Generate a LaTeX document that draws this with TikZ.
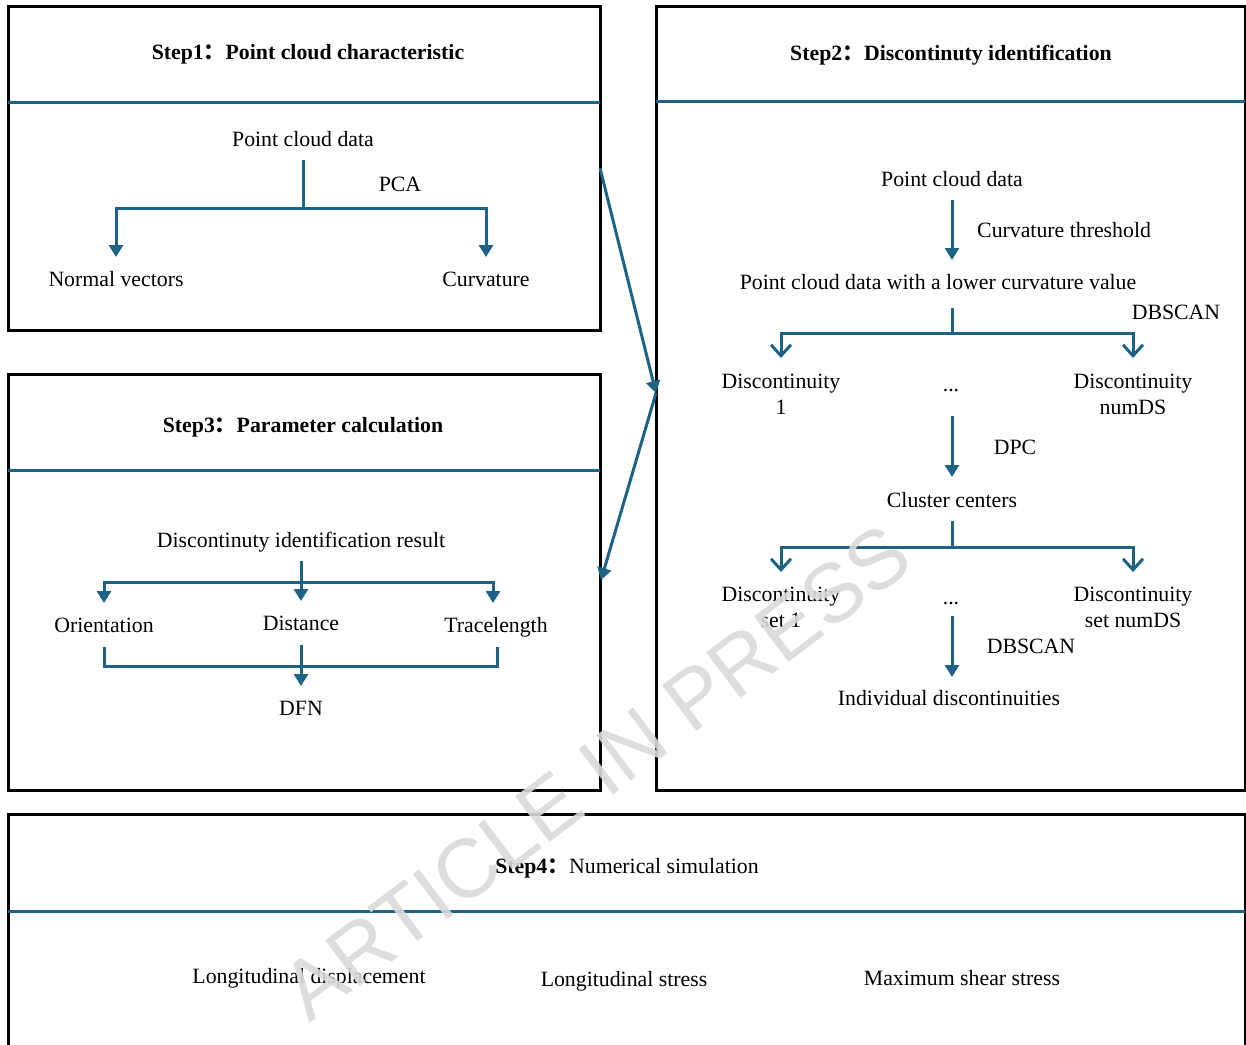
\documentclass[tikz,border=0pt]{standalone}
\usepackage{fontspec}
\setmainfont{Liberation Serif}
\setsansfont{Liberation Sans}
\newfontfamily\cjk{Noto Sans CJK SC}
\usetikzlibrary{arrows.meta}
\definecolor{flowblue}{RGB}{28,99,133}
\newcommand{\fwcolon}{{\cjk ：}}
\begin{document}
\begin{tikzpicture}[x=1pt,y=-1pt,
  font=\fontsize{21.8}{26}\selectfont,
  frame/.style={draw=black,line width=3pt},
  divider/.style={draw=flowblue,line width=3pt},
  flow/.style={draw=flowblue,line width=3pt},
  fillarrow/.style={flow,-{Triangle[length=12pt,width=14pt]}},
  openarrow/.style={flow,-{Straight Barb[length=11pt,width=20pt,line width=3pt]}},
  txt/.style={inner sep=0pt,anchor=base},
  two/.style={inner sep=0pt,anchor=center,align=center},
  hdr/.style={txt,font=\fontsize{21.8}{26}\selectfont\bfseries}]
\useasboundingbox (0,0) rectangle (1246,1044);
\clip (0,0) rectangle (1246,1044);

% frames
\draw[frame] (8,6) rectangle (600,330);
\draw[divider] (8,102) -- (600,102);
\draw[frame] (656,6) rectangle (1245,790);
\draw[divider] (656,101) -- (1245,101);
\draw[frame] (8,374) rectangle (600,790);
\draw[divider] (8,470) -- (600,470);
\draw[frame] (8,814) rectangle (1245,1060);
\draw[divider] (8,911) -- (1245,911);

% Step 1
\node[hdr] (h1) at (308,59) {Step1\fwcolon Point cloud characteristic};
\node[txt] (s1data) at (303,146) {Point cloud data};
\node[txt] (s1pca) at (400,191) {PCA};
\node[txt] (s1nv) at (116,286) {Normal vectors};
\node[txt] (s1cu) at (486,286) {Curvature};
\coordinate (s1top) at (303,160);
\coordinate (s1b) at (303,208);
\coordinate (s1nvIn) at (116,257);
\coordinate (s1cuIn) at (486,257);
\draw[flow] (s1top) -- (s1b);
\draw[fillarrow] (s1b) -| (s1nvIn);
\draw[fillarrow] (s1b) -| (s1cuIn);

% Step 2
\node[hdr] (h2) at (951,60) {Step2\fwcolon Discontinuty identification};
\node[txt] (s2data) at (952,186) {Point cloud data};
\coordinate (s2a1) at (952,200);
\coordinate (s2a1e) at (952,260);
\draw[fillarrow] (s2a1) -- (s2a1e);
\node[txt,anchor=base west] (s2ct) at (977,237) {Curvature threshold};
\node[txt] (s2low) at (938,289) {Point cloud data with a lower curvature value};
\coordinate (s2t1) at (952,308);
\coordinate (s2b1) at (952,333);
\coordinate (s2l1) at (781,358);
\coordinate (s2r1) at (1133,358);
\draw[flow] (s2t1) -- (s2b1);
\draw[openarrow] (s2b1) -| (s2l1);
\draw[openarrow] (s2b1) -| (s2r1);
\node[txt] (s2db1) at (1176,319) {DBSCAN};
\node[two] (s2d1) at (781,394) {Discontinuity\\1};
\node[txt] (s2dots1) at (951,391) {...};
\node[two] (s2dN) at (1133,394) {Discontinuity\\numDS};
\coordinate (s2a2) at (952,416);
\coordinate (s2a2e) at (952,477);
\draw[fillarrow] (s2a2) -- (s2a2e);
\node[txt] (s2dpc) at (1015,454) {DPC};
\node[txt] (s2cc) at (952,507) {Cluster centers};
\coordinate (s2t2) at (952,521);
\coordinate (s2b2) at (952,547);
\coordinate (s2l2) at (781,572);
\coordinate (s2r2) at (1133,572);
\draw[flow] (s2t2) -- (s2b2);
\draw[openarrow] (s2b2) -| (s2l2);
\draw[openarrow] (s2b2) -| (s2r2);
\node[two] (s2ds1) at (781,607) {Discontinuity\\set 1};
\node[txt] (s2dots2) at (951,604) {...};
\node[two] (s2dsN) at (1133,607) {Discontinuity\\set numDS};
\coordinate (s2a3) at (952,616);
\coordinate (s2a3e) at (952,677);
\draw[fillarrow] (s2a3) -- (s2a3e);
\node[txt] (s2db2) at (1031,653) {DBSCAN};
\node[txt] (s2ind) at (949,705) {Individual discontinuities};

% Step 3
\node[hdr] (h3) at (303,432) {Step3\fwcolon Parameter calculation};
\node[txt] (s3res) at (301,547) {Discontinuty identification result};
\coordinate (s3t) at (301,561);
\coordinate (s3b) at (301,582);
\coordinate (s3mIn) at (301,601);
\coordinate (s3oIn) at (104,603);
\coordinate (s3tIn) at (493,603);
\draw[fillarrow] (s3t) -- (s3mIn);
\draw[fillarrow] (s3b) -| (s3oIn);
\draw[fillarrow] (s3b) -| (s3tIn);
\node[txt] (s3o) at (104,632) {Orientation};
\node[txt] (s3d) at (301,630) {Distance};
\node[txt] (s3tl) at (496,632) {Tracelength};
\coordinate (s3oOut) at (104,647);
\coordinate (s3corner) at (497,666);
\coordinate (s3tOut) at (497,647);
\draw[flow] (s3oOut) |- (s3corner) -- (s3tOut);
\coordinate (s3dOut) at (301,645);
\coordinate (s3dfnIn) at (301,686);
\draw[fillarrow] (s3dOut) -- (s3dfnIn);
\node[txt] (s3dfn) at (301,715) {DFN};

% Step 4
\node[txt] (h4) at (627,873) {\textbf{Step4\fwcolon}Numerical simulation};
\node[txt] (s4a) at (309,983) {Longitudinal displacement};
\node[txt] (s4b) at (624,986) {Longitudinal stress};
\node[txt] (s4c) at (962,985) {Maximum shear stress};

% connectors between steps
\coordinate (b1R) at (600,168);
\coordinate (b2L) at (656,393);
\coordinate (b3R) at (601,580);
\draw[fillarrow] (b1R) -- (b2L);
\draw[fillarrow] (b2L) -- (b3R);

% watermark
\node[rotate=37,inner sep=0pt,font=\sffamily\fontsize{83}{83}\selectfont,text=black!15,opacity=0.9] (wm) at (596,772) {ARTICLE IN PRESS};
\end{tikzpicture}
\end{document}
